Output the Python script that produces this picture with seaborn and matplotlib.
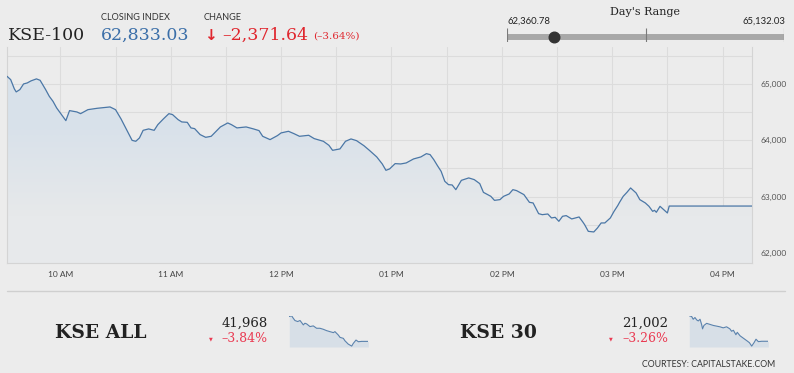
import pandas as pd
import matplotlib
matplotlib.use("Agg")
import matplotlib.pyplot as plt
import matplotlib.dates as mdates
from matplotlib.ticker import MultipleLocator, FuncFormatter
from matplotlib.colors import LinearSegmentedColormap
from matplotlib.lines import Line2D
from matplotlib.patches import PathPatch
import seaborn as sns

# KSE-100 intraday
kse100_times = ["09:31", "09:33", "09:35", "09:36", "09:38", "09:40", "09:42", "09:44", "09:47", "09:49",
                "09:52", "09:54", "09:56", "09:58", "10:01", "10:03", "10:05", "10:09", "10:11", "10:15",
                "10:20", "10:25", "10:27", "10:30", "10:33", "10:36", "10:39", "10:41", "10:43", "10:45",
                "10:48", "10:51", "10:53", "10:56", "10:59", "11:01", "11:04", "11:06", "11:09", "11:11",
                "11:13", "11:16", "11:19", "11:22", "11:27", "11:31", "11:33", "11:36", "11:41", "11:45",
                "11:48", "11:50", "11:54", "11:58", "12:00", "12:04", "12:07", "12:10", "12:15", "12:18",
                "12:23", "12:26", "12:28", "12:32", "12:35", "12:38", "12:41", "12:45", "12:48", "12:52",
                "12:55", "12:57", "12:59", "13:02", "13:05", "13:08", "13:12", "13:16", "13:19", "13:21",
                "13:23", "13:25", "13:27", "13:29", "13:31", "13:33", "13:35", "13:38", "13:42", "13:45",
                "13:48", "13:50", "13:54", "13:56", "13:59", "14:01", "14:04", "14:06", "14:08", "14:12",
                "14:15", "14:17", "14:20", "14:22", "14:25", "14:27", "14:29", "14:31", "14:33", "14:35",
                "14:38", "14:40", "14:42", "14:44", "14:45", "14:47", "14:50", "14:52", "14:54", "14:56",
                "14:59", "15:01", "15:03", "15:04", "15:06", "15:08", "15:10", "15:13", "15:15", "15:18",
                "15:20", "15:22", "15:23", "15:24", "15:26", "15:28", "15:30", "15:31", "16:16"]
kse100_values = [65136, 65077, 64912, 64859, 64900, 65000, 65018, 65054, 65090, 65065,
                 64900, 64780, 64692, 64574, 64438, 64349, 64527, 64503, 64473, 64544,
                 64568, 64586, 64592, 64544, 64379, 64189, 63999, 63982, 64042, 64177,
                 64202, 64177, 64278, 64379, 64473, 64456, 64367, 64326, 64319, 64220,
                 64207, 64101, 64053, 64071, 64237, 64308, 64278, 64220, 64237, 64202,
                 64172, 64071, 64012, 64083, 64131, 64160, 64118, 64071, 64089, 64030,
                 63982, 63911, 63822, 63847, 63982, 64024, 63994, 63905, 63822, 63705,
                 63580, 63467, 63492, 63586, 63580, 63598, 63669, 63705, 63763, 63746,
                 63657, 63550, 63449, 63272, 63213, 63207, 63124, 63289, 63332, 63302,
                 63231, 63076, 63006, 62934, 62947, 63006, 63048, 63124, 63107, 63036,
                 62899, 62888, 62698, 62680, 62692, 62622, 62633, 62562, 62651, 62663,
                 62604, 62622, 62639, 62551, 62503, 62384, 62373, 62444, 62533, 62533,
                 62622, 62739, 62840, 62899, 63006, 63076, 63154, 63065, 62947, 62888,
                 62828, 62739, 62757, 62722, 62828, 62769, 62710, 62833, 62833]

kse_all_times = ["09:31", "09:43", "09:51", "10:00", "10:14", "10:26", "10:34", "10:43", "10:51", "11:00",
                 "11:17", "11:34", "11:51", "12:08", "12:25", "12:42", "12:59", "13:17", "13:25", "13:42",
                 "13:51", "14:08", "14:16", "14:33", "14:51", "14:59", "15:13", "15:25", "15:42", "16:16"]
kse_all_values = [43640, 43686, 43527, 43369, 43301, 43369, 43234, 43075, 43188, 43143,
                  42962, 43008, 42849, 42849, 42782, 42691, 42623, 42556, 42623, 42397,
                  42239, 42171, 42013, 41787, 41652, 41832, 42058, 41945, 41968, 41968]

kse30_times = ["09:31", "09:43", "09:51", "10:00", "10:09", "10:17", "10:26", "10:34", "10:39", "10:46",
               "11:00", "11:17", "11:34", "11:51", "12:08", "12:25", "12:42", "12:59", "13:08", "13:17",
               "13:30", "13:37", "13:51", "14:08", "14:25", "14:39", "14:51", "15:03", "15:13", "15:25",
               "15:42", "16:16"]
kse30_values = [21710, 21691, 21614, 21662, 21595, 21567, 21614, 21471, 21347, 21442,
                21500, 21471, 21442, 21423, 21404, 21375, 21404, 21347, 21280, 21308,
                21184, 21251, 21155, 21088, 21021, 20964, 20868, 20964, 21059, 20992,
                21002, 21002]

close_index = 62833.03
change = -2371.64
change_pct = -3.64
day_low = 62360.78
day_high = 65132.03
y_ticks = [62000, 63000, 64000, 65000]

BG = "#ececec"
GRID = "#dcdcdc"
LINE = "#4b77a6"
BLUE = "#3a6ea8"
RED = "#e0262e"
PINK = "#ea3a52"
DARK = "#222222"

W, H = 794, 373


def box(x0, y0, x1, y1):
    return [x0 / W, 1 - y1 / H, (x1 - x0) / W, (y1 - y0) / H]


def to_dt(times):
    return pd.to_datetime(["2022-01-24 " + t for t in times])


def txt(x, y, s, **kw):
    kw.setdefault("va", "baseline")
    fig.text(x / W, 1 - y / H, s, **kw)


sns.set_theme(style="whitegrid", rc={"axes.facecolor": BG, "figure.facecolor": BG,
                                     "grid.color": GRID, "grid.linewidth": 0.8})
plt.rcParams["font.family"] = ["Lato", "DejaVu Sans"]

fig = plt.figure(figsize=(W / 100, H / 100), dpi=100)

# ---- main chart
df = pd.DataFrame({"time": to_dt(kse100_times), "value": kse100_values})
ax = fig.add_axes(box(7, 47, 752, 263))
ymin, ymax = 61822, 65656
poly = ax.fill_between(df["time"], df["value"], ymin, facecolor="none", edgecolor="none")
clip = PathPatch(poly.get_paths()[0], transform=ax.transData, facecolor="none", edgecolor="none")
ax.add_patch(clip)
grad = LinearSegmentedColormap.from_list("g", ["#e7e9eb", "#d8e1ea"])
x0n, x1n = mdates.date2num(df["time"].min()), mdates.date2num(df["time"].max())
im = ax.imshow([[0], [1]], cmap=grad, aspect="auto", origin="lower", interpolation="bilinear",
               extent=[x0n, x1n, ymin, df["value"].max()], zorder=1)
im.set_clip_path(clip)
sns.lineplot(data=df, x="time", y="value", ax=ax, color=LINE, linewidth=0.9, zorder=3)

ax.set_xlim(df["time"].min(), df["time"].max())
ax.set_ylim(ymin, ymax)
ax.xaxis.set_major_locator(mdates.HourLocator())
ax.xaxis.set_minor_locator(mdates.MinuteLocator(byminute=30))
ax.xaxis.set_major_formatter(mdates.DateFormatter("%I %p"))
ax.set_yticks(y_ticks)
ax.yaxis.set_minor_locator(MultipleLocator(500))
ax.yaxis.set_major_formatter(FuncFormatter(lambda v, p: f"{v:,.0f}"))
ax.yaxis.tick_right()
ax.grid(True, which="both", color=GRID, linewidth=0.8)
ax.set_xlabel(None)
ax.set_ylabel(None)
ax.tick_params(axis="x", which="major", length=4, color=GRID, width=0.8,
               labelsize=6, labelcolor="#444", pad=2)
ax.tick_params(axis="x", which="minor", length=0)
ax.tick_params(axis="y", which="both", length=0, labelsize=6, labelcolor="#555", pad=6)
for side in ["left", "right", "bottom"]:
    ax.spines[side].set_color("#d4d4d4")
    ax.spines[side].set_linewidth(0.8)
ax.spines["top"].set_visible(False)

# ---- header
txt(8, 39.5, "KSE-100", family="DejaVu Serif", fontsize=12.5, color=DARK)
txt(101, 20, "CLOSING INDEX", fontsize=6.6, color="#333")
txt(101, 40, f"{close_index:,.2f}", family="DejaVu Serif", fontsize=12.5, color=BLUE)
txt(204, 20, "CHANGE", fontsize=6.6, color="#333")
txt(204, 39.5, "\u2193", family="DejaVu Sans", fontsize=11, fontweight="bold", color=RED)
txt(222, 40, f"{change:,.2f}".replace("-", "\u2013"), family="DejaVu Serif", fontsize=12.5, color=RED)
txt(313, 39, f"({change_pct:.2f}%)".replace("-", "\u2013"), family="DejaVu Serif", fontsize=7.5, color=RED)

txt(645, 15, "Day's Range", family="DejaVu Serif", fontsize=8, color=DARK, ha="center")
txt(507, 24, f"{day_low:,.2f}", fontsize=6.8, color=DARK)
txt(785, 24, f"{day_high:,.2f}", fontsize=6.8, color=DARK, ha="right")

rax = fig.add_axes(box(507, 27.7, 784.3, 41.7))
rax.set_xlim(day_low, day_high)
rax.set_ylim(14, 0)
rax.axis("off")
rax.hlines(9, day_low, day_high, color="#a8a8a8", linewidth=4.3)
rax.vlines([day_low, (day_low + day_high) / 2, day_high], 0, 14, color="#7a7a7a", linewidth=0.8)
rax.scatter([close_index], [9], s=58, color="#333333", zorder=5, clip_on=False)

# ---- separator + bottom strip
fig.add_artist(Line2D([7 / W, 785 / W], [1 - 291 / H] * 2, color="#cfcfcf", linewidth=1))


def spark(x0, times, values):
    sd = pd.DataFrame({"time": to_dt(times), "value": values})
    sax = fig.add_axes(box(x0, 315.5, x0 + 79, 347))
    lo, hi = min(values), max(values)
    bottom = lo - 0.03 * (hi - lo)
    sax.fill_between(sd["time"], sd["value"], bottom, color="#d7dfe7", linewidth=0)
    sns.lineplot(data=sd, x="time", y="value", ax=sax, color="#5a82ad", linewidth=0.8)
    sax.set_xlim(sd["time"].min(), sd["time"].max())
    sax.set_ylim(bottom, hi + 0.01 * (hi - lo))
    sax.axis("off")


def index_block(xname, xnum, name, value, pct, sx, times, values):
    txt(xname, 338, name, family="DejaVu Serif", fontsize=13.5, fontweight="bold", color=DARK)
    txt(xnum, 327, f"{value:,}", family="DejaVu Serif", fontsize=9.5, color=DARK, ha="right")
    txt(xnum - 57, 340.5, "\u25bc", family="DejaVu Sans", fontsize=3.5, color=PINK, ha="center")
    txt(xnum, 342, f"{pct:.2f}%".replace("-", "\u2013"), family="DejaVu Serif", fontsize=9,
        color=PINK, ha="right")
    spark(sx, times, values)


index_block(55, 268, "KSE ALL", 41968, -3.84, 289.3, kse_all_times, kse_all_values)
index_block(460, 668, "KSE 30", 21002, -3.26, 689.3, kse30_times, kse30_values)

txt(775, 367, "COURTESY: CAPITALSTAKE.COM", fontsize=6.3, color="#333", ha="right")

fig.savefig("out.png", dpi=100, facecolor=BG)
